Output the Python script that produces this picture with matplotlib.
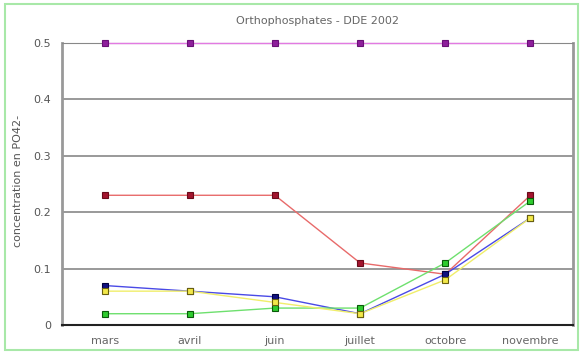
import matplotlib.pyplot as plt
from matplotlib.patches import Rectangle

months = ['mars', 'avril', 'juin', 'juillet', 'octobre', 'novembre']
serie_magenta = [0.5, 0.5, 0.5, 0.5, 0.5, 0.5]
serie_rouge = [0.23, 0.23, 0.23, 0.11, 0.09, 0.23]
serie_bleu = [0.07, 0.06, 0.05, 0.02, 0.09, 0.19]
serie_jaune = [0.06, 0.06, 0.04, 0.02, 0.08, 0.19]
serie_vert = [0.02, 0.02, 0.03, 0.03, 0.11, 0.22]
yticks = [0, 0.1, 0.2, 0.3, 0.4, 0.5]
ytick_labels = ['0', '0.1', '0.2', '0.3', '0.4', '0.5']

plt.rcParams.update({
    'font.family': 'DejaVu Sans',
    'font.size': 8,
})

fig = plt.figure(figsize=(5.82, 3.54), dpi=100)
ax = fig.add_axes([62 / 582, 1 - 325 / 354, 511 / 582, 282 / 354])

x = list(range(len(months)))
# drawing order: bottom to top as in the reference
styles = [
    (serie_magenta, '#e27ae2', '#8e1f9c', '#6a1077'),
    (serie_rouge, '#e86a6a', '#a3142e', '#6a0a1a'),
    (serie_bleu, '#4a4ae6', '#101080', '#000040'),
    (serie_vert, '#6ee06e', '#2ecc2e', '#0a5a0a'),
    (serie_jaune, '#f0ee6a', '#f2e84a', '#6a6010'),
]
for vals, lc, mfc, mec in styles:
    ax.plot(x, vals, color=lc, lw=1, marker='s', ms=5,
            mfc=mfc, mec=mec, mew=0.8, clip_on=False, zorder=3)

ax.set_xlim(-0.5, 5.5)
ax.set_ylim(0, 0.5)
ax.set_xticks(x)
ax.set_xticklabels(months, color='#666666')
ax.set_yticks(yticks)
ax.set_yticklabels(ytick_labels, color='#555555')
ax.tick_params(length=0, pad=8)
ax.yaxis.grid(True, color='#888888', lw=1.2)
ax.set_axisbelow(True)
for side in ['left', 'right']:
    ax.spines[side].set_color('#999999')
    ax.spines[side].set_linewidth(2)
ax.spines['top'].set_color('#888888')
ax.spines['bottom'].set_color('#222222')
ax.spines['bottom'].set_linewidth(1.5)

ax.set_title('Orthophosphates - DDE 2002', color='#666666', fontsize=8, pad=14)
ax.set_ylabel('concentration en PO42-', color='#555555')
ax.yaxis.set_label_coords(-0.077, 0.51)

fig.patches.append(Rectangle((5 / 582, 0.01), 0.985, 0.98, transform=fig.transFigure,
                             fill=False, edgecolor='#a8e8a8', lw=1.5))

fig.savefig('out.png', dpi=100)
